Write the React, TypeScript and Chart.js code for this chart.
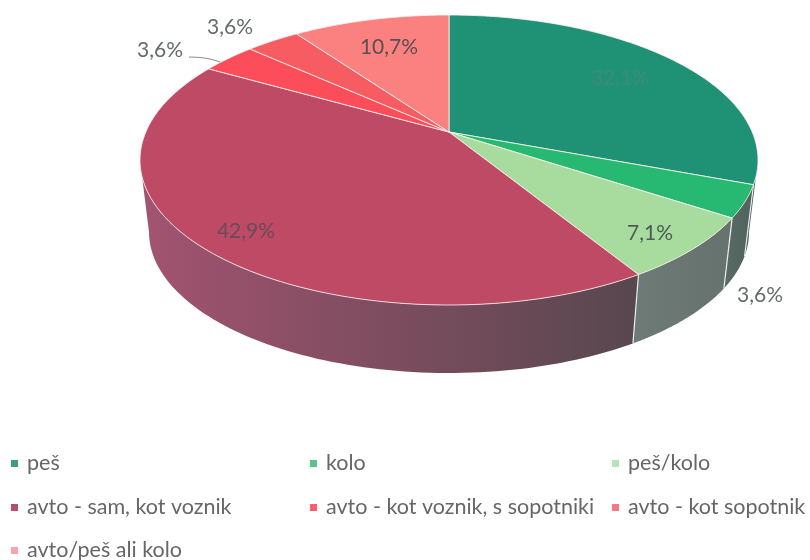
import React, { useEffect, useRef } from "react";
import { Chart, registerables } from "chart.js";

Chart.register(...registerables);

const categories = ["peš", "kolo", "peš/kolo", "avto - sam, kot voznik", "avto - kot voznik, s sopotniki", "avto - kot sopotnik", "avto/peš ali kolo"];
const shares = [32.1, 3.6, 7.1, 42.9, 3.6, 3.6, 10.7];
const topColors = ["#1f9276", "#27b871", "#a8dc9f", "#bf4a66", "#fd4c5a", "#f85c63", "#fb8181"];
const sideLeft = ["#4a6a62", "#586c64", "#6e7a75", "#a35370", "#a55570", "#a55570", "#a55570"];
const sideRight = ["#3e5a55", "#4f625c", "#66726d", "#57474e", "#a55570", "#a55570", "#a55570"];
const legendColors = ["#3d9c88", "#5ac48f", "#b5e5b5", "#b5506a", "#f86070", "#f87888", "#f8a4aa"];
const legendCells = [[11, 463], [310, 463], [612, 463], [11, 507], [310, 507], [612, 507], [11, 550]];
const labelCells = [[620, 78], [760, 295], [650, 233], [246, 231], [160, 50], [230, 27], [389, 47]];
const labelInk = ["#3d8a78", "#666a6b", "#4f5a55", "#6a4a5c", "#666a6b", "#666a6b", "#5a4f50"];

const FONT = 'Lato, "Open Sans", sans-serif';
const top = { cx: 449, cy: 160, rx: 309, ry: 145 };
const bottom = { cx: 449, cy: 232, rx: 300, ry: 141 };
const apex = { x: 449, y: 132 };

// Foreshortening of the 3D view: where a pie angle lands on the rim ellipse.
const warp = (t: number) => t - 0.22 * Math.sin(t);
const rim = (e: typeof top, a: number) => ({ x: e.cx + e.rx * Math.sin(a), y: e.cy - e.ry * Math.cos(a) });

const pie3d = {
  id: "pie3d",
  beforeDatasetDraw(chart: any) {
    const ctx = chart.ctx;
    const arcs = chart.getDatasetMeta(0).data;
    const span = arcs.map((arc: any) => [warp(arc.startAngle + Math.PI / 2), warp(arc.endAngle + Math.PI / 2)]);

    // side wall, only the front half of the rim is visible
    arcs.forEach((_: any, i: number) => {
      const from = Math.max(span[i][0], Math.PI / 2);
      const to = Math.min(span[i][1], (3 * Math.PI) / 2);
      if (to <= from) return;
      const upper: any[] = [];
      const lower: any[] = [];
      for (let k = 0; k <= 80; k++) {
        const a = from + ((to - from) * k) / 80;
        upper.push(rim(top, a));
        lower.push(rim(bottom, a));
      }
      const xs = upper.concat(lower).map((p) => p.x);
      const g = ctx.createLinearGradient(Math.min(...xs), 0, Math.max(...xs), 0);
      g.addColorStop(0, sideLeft[i]);
      g.addColorStop(1, sideRight[i]);
      ctx.beginPath();
      upper.forEach((p, k) => (k ? ctx.lineTo(p.x, p.y) : ctx.moveTo(p.x, p.y)));
      lower.reverse().forEach((p) => ctx.lineTo(p.x, p.y));
      ctx.closePath();
      ctx.fillStyle = g;
      ctx.fill();
      ctx.strokeStyle = "rgba(255,255,255,0.85)";
      ctx.lineWidth = 1.2;
      if (from > Math.PI / 2) {
        const a = rim(top, from);
        const b = rim(bottom, from);
        ctx.beginPath();
        ctx.moveTo(a.x, a.y);
        ctx.lineTo(b.x, b.y);
        ctx.stroke();
      }
    });

    // top face, one slice per arc element
    arcs.forEach((_: any, i: number) => {
      ctx.beginPath();
      ctx.moveTo(apex.x, apex.y);
      for (let k = 0; k <= 120; k++) {
        const p = rim(top, span[i][0] + ((span[i][1] - span[i][0]) * k) / 120);
        ctx.lineTo(p.x, p.y);
      }
      ctx.closePath();
      ctx.fillStyle = topColors[i];
      ctx.fill();
      ctx.strokeStyle = "rgba(255,245,240,0.8)";
      ctx.lineWidth = 1;
      ctx.stroke();
    });
    return false;
  },
  afterDraw(chart: any) {
    const ctx = chart.ctx;
    ctx.save();
    ctx.textBaseline = "middle";

    // leader line
    ctx.strokeStyle = "#8a8a8a";
    ctx.lineWidth = 1;
    ctx.beginPath();
    ctx.moveTo(189, 57);
    ctx.quadraticCurveTo(208, 57, 220, 62);
    ctx.stroke();

    // data labels
    ctx.font = `21px ${FONT}`;
    ctx.textAlign = "center";
    shares.forEach((c, i) => {
      ctx.fillStyle = labelInk[i];
      ctx.fillText(c.toFixed(1).replace(".", ",") + "%", labelCells[i][0], labelCells[i][1]);
    });

    // legend
    ctx.font = `21.5px ${FONT}`;
    ctx.textAlign = "left";
    categories.forEach((name, i) => {
      const [x, y] = legendCells[i];
      ctx.fillStyle = legendColors[i];
      ctx.fillRect(x, y - 3, 7, 7);
      ctx.fillStyle = "#666666";
      ctx.fillText(name, x + 16, y);
    });
    ctx.restore();
  },
};

export default function App() {
  const ref = useRef<HTMLCanvasElement>(null);
  useEffect(() => {
    const chart = new Chart(ref.current as HTMLCanvasElement, {
      type: "pie",
      data: { labels: categories, datasets: [{ data: shares, backgroundColor: topColors, borderWidth: 0 }] },
      options: {
        responsive: false,
        animation: false,
        events: [],
        plugins: { legend: { display: false }, tooltip: { enabled: false } },
      },
      plugins: [pie3d],
    } as any);
    return () => chart.destroy();
  }, []);
  return (
    <div style={{ position: "absolute", left: 0, top: 0, width: 810, height: 560, background: "#fff" }}>
      <canvas ref={ref} width={810} height={560} style={{ display: "block" }} />
    </div>
  );
}
